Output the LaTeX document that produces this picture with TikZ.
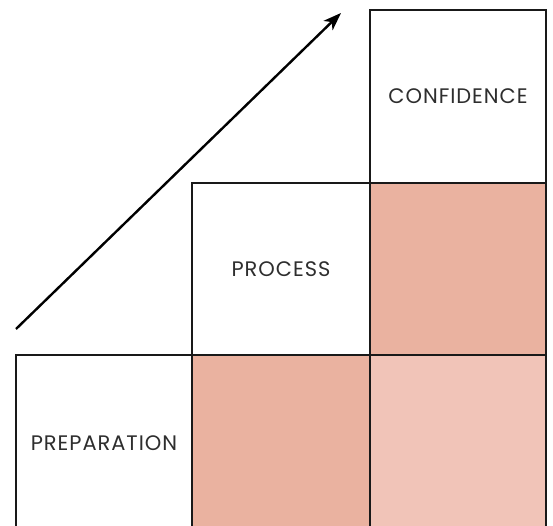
\documentclass[tikz,border=0pt]{standalone}
\usepackage{fontspec}
\setmainfont{Poppins}[LetterSpace=4.5]
\usetikzlibrary{arrows.meta}
\definecolor{pinkA}{HTML}{EAB2A0}
\definecolor{pinkB}{HTML}{F1C4B8}
\definecolor{txt}{HTML}{2E2E2E}
\tikzset{
  cell/.style={draw=black!90, line width=2pt, rectangle, anchor=south west, inner sep=0pt, font=\fontsize{21}{24}\selectfont, text=txt},
  trend/.style={line width=2.4pt, -{Stealth[length=18pt,width=13pt,inset=5pt]}}
}
\begin{document}
\begin{tikzpicture}[x=1pt,y=1pt]
\useasboundingbox (0,0) rectangle (553,526);
\clip (0,0) rectangle (553,526);
% columns: 15-191, 191-369, 369-545 ; rows (tikz y): 0-170, 170-342, 342-515
\node[cell, fill=pinkB, minimum width=176pt, minimum height=176pt] (br) at (369,-6) {};
\node[cell, fill=pinkA, minimum width=178pt, minimum height=176pt] (bm) at (191,-6) {};
\node[cell, fill=white, minimum width=176pt, minimum height=176pt] (prep) at (15,-6) {PREPARATION};
\node[cell, fill=pinkA, minimum width=176pt, minimum height=172pt] (mr) at (369,170) {};
\node[cell, fill=white, minimum width=178pt, minimum height=172pt] (proc) at (191,170) {PROCESS};
\node[cell, fill=white, minimum width=176pt, minimum height=173pt] (conf) at (369,342) {CONFIDENCE};
\coordinate (a0) at (16,197);
\coordinate (a1) at (341,513);
\draw[trend] (a0) -- (a1);
\end{tikzpicture}
\end{document}
